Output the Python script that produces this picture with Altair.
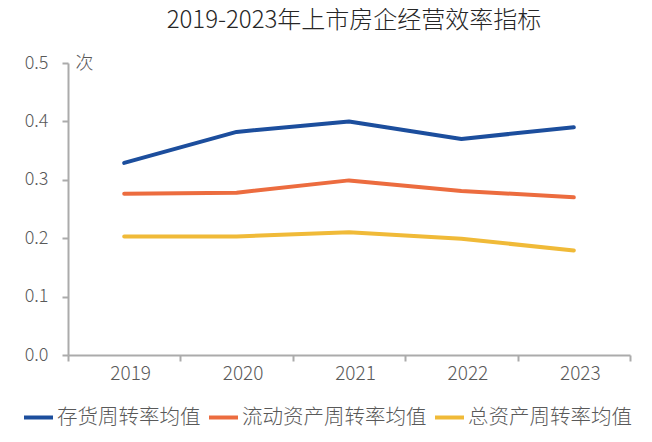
import altair as alt
import pandas as pd

years = ["2019", "2020", "2021", "2022", "2023"]
series_names = ["存货周转率均值", "流动资产周转率均值", "总资产周转率均值"]
inventory_turnover = [0.329, 0.382, 0.400, 0.370, 0.390]
current_asset_turnover = [0.276, 0.278, 0.299, 0.281, 0.270]
total_asset_turnover = [0.203, 0.203, 0.210, 0.199, 0.179]
colors = ["#1C4E9D", "#EC6C3F", "#F0BA38"]
y_ticks = [0.0, 0.1, 0.2, 0.3, 0.4, 0.5]

rows = []
for name, vals in zip(series_names, [inventory_turnover, current_asset_turnover, total_asset_turnover]):
    for yr, v in zip(years, vals):
        rows.append({"year": yr, "series": name, "value": v})
df = pd.DataFrame(rows)

FONT = "Noto Sans CJK SC"
GRAY = "#595959"
AXIS = "#ABABAB"

chart = alt.Chart(df).mark_line(strokeWidth=4, strokeCap="round", strokeJoin="round").encode(
    x=alt.X(
        "year:O",
        bandPosition=0.5,
        scale=alt.Scale(type="band", paddingInner=0, paddingOuter=0, domain=years),
        axis=alt.Axis(
            title=None, labelAngle=0, tickBand="extent", domainColor=AXIS, tickColor=AXIS,
            tickSize=6, domainWidth=2, tickWidth=2, labelFontSize=19, labelColor=GRAY,
            labelFont=FONT, labelFontWeight=300, labelPadding=3, labelOffset=6, grid=False,
        ),
    ),
    y=alt.Y(
        "value:Q",
        scale=alt.Scale(domain=[0, 0.5], nice=False),
        axis=alt.Axis(
            values=y_ticks, format=".1f", title="次", titleAngle=0, titleX=7, titleY=0,
            titleAlign="left", titleBaseline="middle", titleFontSize=18, titleFont=FONT,
            titleFontWeight=300, titleColor=GRAY, domainColor=AXIS, tickColor=AXIS,
            tickSize=6, domainWidth=2, tickWidth=2, labelFontSize=18, labelColor=GRAY,
            labelFont=FONT, labelFontWeight=300, labelPadding=14, grid=False,
        ),
    ),
    color=alt.Color(
        "series:N",
        scale=alt.Scale(domain=series_names, range=colors),
        legend=alt.Legend(
            title=None, orient="none", legendX=-46, legendY=338, direction="horizontal",
            columns=3, symbolType="stroke", symbolSize=841, symbolStrokeWidth=4,
            labelFontSize=20.5, labelFont=FONT, labelFontWeight=300, labelColor=GRAY,
            labelOffset=2, columnPadding=0, padding=0, labelLimit=400,
        ),
    ),
    detail="series:N",
).properties(
    width=562,
    height=292,
    background="white",
    autosize=alt.AutoSizeParams(type="none"),
    padding={"left": 60, "top": 55, "right": 14, "bottom": 79},
    title=alt.TitleParams(
        "2019-2023年上市房企经营效率指标", font=FONT, fontSize=24, fontWeight=300,
        color="#262626", offset=21, dx=5,
    ),
).configure_view(stroke=None)

chart.save("out.html", embed_options={"renderer": "svg", "actions": False})
